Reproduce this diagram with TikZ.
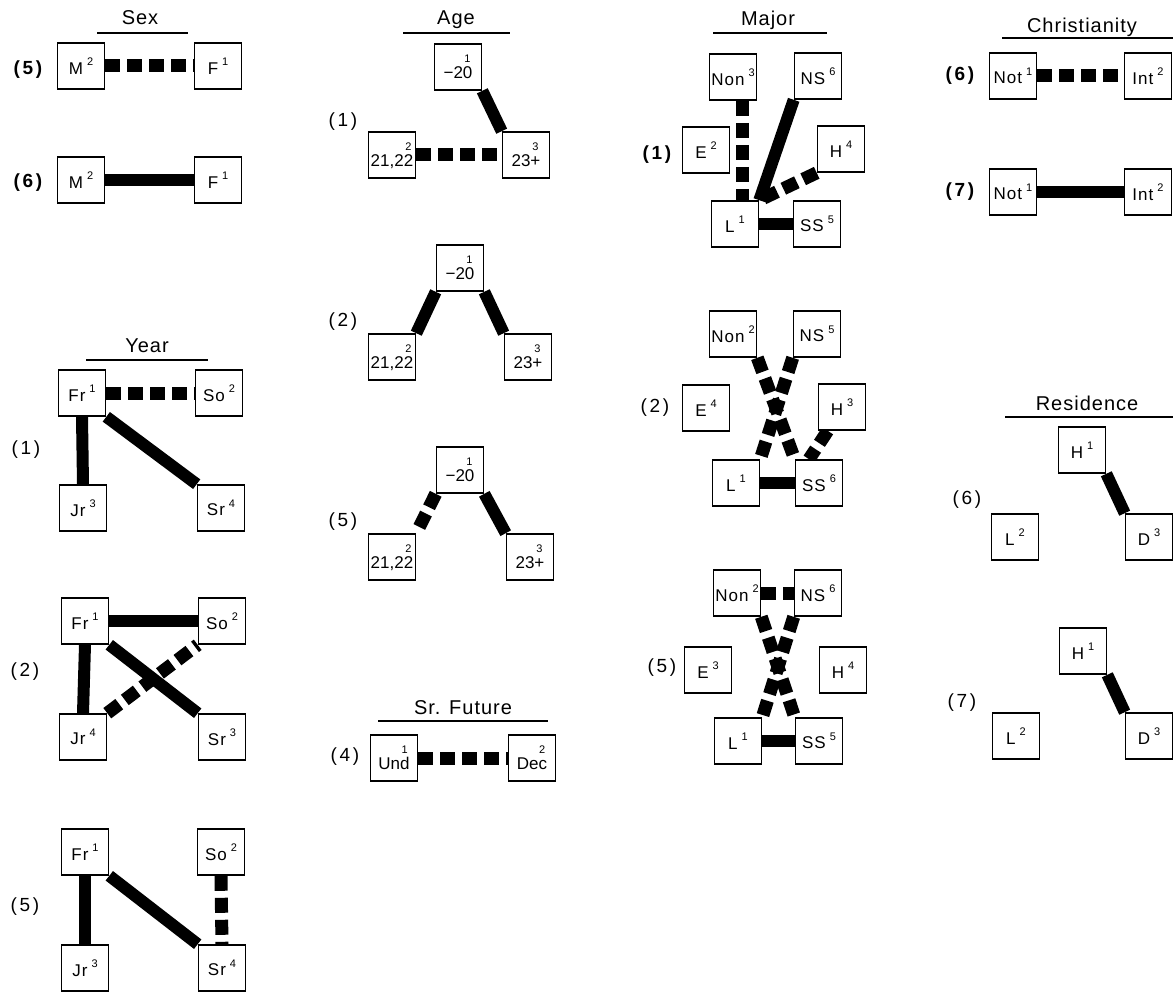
\documentclass[tikz,border=0pt]{standalone}
\usepackage{fontspec}
\setmainfont{Liberation Sans}
\newfontfamily\ttlfont[LetterSpace=5]{Liberation Sans}
\newfontfamily\labfont[LetterSpace=14]{Liberation Sans}
\newfontfamily\boxfont[LetterSpace=6]{Liberation Sans}
\usetikzlibrary{backgrounds}
\newcommand\sn[1]{\raisebox{0.95ex}{\fontsize{11}{11}\selectfont #1}}
\newcommand\bxt[2]{\raisebox{-0.35em}{#1\hspace{4pt}\sn{#2}}}
\newcommand\twol[2]{\normalfont\raisebox{-3pt}{\begin{tabular}{@{}r@{}}{\fontsize{11}{11}\selectfont #2\,}\\[-1pt]#1\end{tabular}}}
\begin{document}
\begin{tikzpicture}[x=1pt,y=-1pt,
  bx/.style={draw, line width=1.6pt, fill=white, minimum width=47pt, minimum height=46pt, inner sep=0pt, font=\boxfont\fontsize{17}{17}\selectfont},
  sl/.style={line width=12pt},
  dl/.style={line width=13pt, dash pattern=on 15pt off 7pt},
  ttl/.style={font=\ttlfont\fontsize{20}{20}\selectfont},
  lb/.style={font=\labfont\fontsize{19}{19}\selectfont},
  lbb/.style={font=\labfont\fontsize{19}{19}\selectfont\bfseries},
  ul/.style={line width=1.5pt}]
\useasboundingbox (0,0) rectangle (1173,992);

% ---------- Sex ----------
\node[ttl] (sext) at (140,18) {Sex};
\draw[ul] (97,33) -- (188,33);
\node[lbb] (s5lab) at (28,70) {(5)};
\node[bx] (s5m) at (81,66) {\bxt{M}{2}};
\node[bx] (s5f) at (218,66) {\bxt{F}{1}};
\node[lbb] (s6lab) at (28,183) {(6)};
\node[bx] (s6m) at (81,180) {\bxt{M}{2}};
\node[bx] (s6f) at (218,180) {\bxt{F}{1}};

% ---------- Year ----------
\node[ttl] (yeart) at (147,346) {Year};
\draw[ul] (86,360) -- (208,360);
\node[lb] (y1lab) at (26,450) {(1)};
\node[bx] (y1fr) at (82,393) {\bxt{Fr}{1}};
\node[bx] (y1so) at (219,393) {\bxt{So}{2}};
\node[bx] (y1jr) at (83,508) {\bxt{Jr}{3}};
\node[bx] (y1sr) at (221,508) {\bxt{Sr}{4}};
\node[lb] (y2lab) at (25,672) {(2)};
\node[bx] (y2fr) at (85,621) {\bxt{Fr}{1}};
\node[bx] (y2so) at (222,621) {\bxt{So}{2}};
\node[bx] (y2jr) at (83,737) {\bxt{Jr}{4}};
\node[bx] (y2sr) at (222,737) {\bxt{Sr}{3}};
\node[lb] (y5lab) at (25,907) {(5)};
\node[bx] (y5fr) at (85,852) {\bxt{Fr}{1}};
\node[bx] (y5so) at (221,852) {\bxt{So}{2}};
\node[bx] (y5jr) at (85,968) {\bxt{Jr}{3}};
\node[bx] (y5sr) at (222,968) {\bxt{Sr}{4}};

% ---------- Age ----------
\node[ttl] (aget) at (456,20) {Age};
\draw[ul] (403,33) -- (510,33);
\node[lb] (a1lab) at (343,122) {(1)};
\node[bx] (a1t) at (458,67) {\twol{−20}{1}};
\node[bx] (a1l) at (392,155) {\twol{21,22}{2}};
\node[bx] (a1r) at (526,155) {\twol{23+}{3}};
\node[lb] (a2lab) at (343,322) {(2)};
\node[bx] (a2t) at (460,268) {\twol{−20}{1}};
\node[bx] (a2l) at (392,357) {\twol{21,22}{2}};
\node[bx] (a2r) at (528,357) {\twol{23+}{3}};
\node[lb] (a5lab) at (343,522) {(5)};
\node[bx] (a5t) at (460,470) {\twol{−20}{1}};
\node[bx] (a5l) at (392,557) {\twol{21,22}{2}};
\node[bx] (a5r) at (530,557) {\twol{23+}{3}};

% ---------- Sr. Future ----------
\node[ttl] (sft) at (463,708) {Sr. Future};
\draw[ul] (378,721) -- (548,721);
\node[lb] (f4lab) at (345,757) {(4)};
\node[bx] (f4u) at (394,758) {\twol{Und}{1}};
\node[bx] (f4d) at (532,758) {\twol{Dec}{2}};

% ---------- Major ----------
\node[ttl] (majt) at (768,20) {Major};
\draw[ul] (713,33) -- (827,33);
\node[lbb] (m1lab) at (657,155) {(1)};
\node[bx] (m1non) at (733,77) {\bxt{Non}{3}};
\node[bx] (m1ns) at (818,76) {\bxt{NS}{6}};
\node[bx] (m1e) at (706,150) {\bxt{E}{2}};
\node[bx] (m1h) at (841,149) {\bxt{H}{4}};
\node[bx] (m1l) at (735,224) {\bxt{L}{1}};
\node[bx] (m1ss) at (817,224) {\bxt{SS}{5}};
\node[lb] (m2lab) at (655,408) {(2)};
\node[bx] (m2non) at (733,334) {\bxt{Non}{2}};
\node[bx] (m2ns) at (817,334) {\bxt{NS}{5}};
\node[bx] (m2e) at (706,408) {\bxt{E}{4}};
\node[bx] (m2h) at (842,407) {\bxt{H}{3}};
\node[bx] (m2l) at (736,483) {\bxt{L}{1}};
\node[bx] (m2ss) at (819,483) {\bxt{SS}{6}};
\node[lb] (m5lab) at (662,668) {(5)};
\node[bx] (m5non) at (737,593) {\bxt{Non}{2}};
\node[bx] (m5ns) at (818,593) {\bxt{NS}{6}};
\node[bx] (m5e) at (708,670) {\bxt{E}{3}};
\node[bx] (m5h) at (843,670) {\bxt{H}{4}};
\node[bx] (m5l) at (738,741) {\bxt{L}{1}};
\node[bx] (m5ss) at (819,741) {\bxt{SS}{5}};

% ---------- Christianity ----------
\node[ttl] (chrt) at (1082,27) {Christianity};
\draw[ul] (1002,38) -- (1173,38);
\node[lbb] (c6lab) at (960,76) {(6)};
\node[bx] (c6not) at (1013,76) {\bxt{Not}{1}};
\node[bx] (c6int) at (1148,76) {\bxt{Int}{2}};
\node[lbb] (c7lab) at (960,192) {(7)};
\node[bx] (c7not) at (1013,192) {\bxt{Not}{1}};
\node[bx] (c7int) at (1148,192) {\bxt{Int}{2}};

% ---------- Residence ----------
\node[ttl] (rest) at (1087,403) {Residence};
\draw[ul] (1005,417) -- (1173,417);
\node[lb] (r6lab) at (967,500) {(6)};
\node[bx] (r6h) at (1082,450) {\bxt{H}{1}};
\node[bx] (r6l) at (1015,537) {\bxt{L}{2}};
\node[bx] (r6d) at (1149,537) {\bxt{D}{3}};
\node[lb] (r7lab) at (962,703) {(7)};
\node[bx] (r7h) at (1083,651) {\bxt{H}{1}};
\node[bx] (r7l) at (1016,736) {\bxt{L}{2}};
\node[bx] (r7d) at (1149,736) {\bxt{D}{3}};

\begin{pgfonlayer}{background}
% Sex
\draw[dl] (s5m.east) -- (s5f.west);
\draw[sl] (s6m.east) -- (s6f.west);
% Year
\draw[dl] (y1fr.east) -- (y1so.west);
\draw[sl] (y1fr.south) -- (y1jr.north);
\draw[sl] (y1fr.south east) -- (y1sr.north west);
\draw[sl] (y2fr.east) -- (y2so.west);
\draw[sl] (y2fr.south) -- (y2jr.north);
\draw[sl] (y2fr.south east) -- (y2sr.north west);
\draw[dl] (y2jr.north east) -- (y2so.south west);
\draw[sl] (y5fr.south) -- (y5jr.north);
\draw[sl] (y5fr.south east) -- (y5sr.north west);
\draw[dl] (y5so.south) -- (y5sr.north);
% Age
\draw[sl] (a1t.south east) -- (a1r.north west);
\draw[dl] (a1l.east) -- (a1r.west);
\draw[sl] (a2t.south west) -- (a2l.north east);
\draw[sl] (a2t.south east) -- (a2r.north west);
\draw[dl] (a5t.south west) -- (a5l.north east);
\draw[sl] (a5t.south east) -- (a5r.north west);
\draw[dl] (f4u.east) -- (f4d.west);
% Major
\draw[dl] ([xshift=9pt]m1non.south) -- ([xshift=7pt]m1l.north);
\draw[sl] (m1ns.south west) -- (m1l.north east);
\draw[dl] (m1h.south west) -- (m1l.north east);
\draw[sl] (m1l.east) -- (m1ss.west);
\draw[dl] (m2non.south east) -- (m2ss.north west);
\draw[dl] (m2ns.south west) -- (m2l.north east);
\draw[dl] ([xshift=10pt]m2h.south west) -- ([xshift=-10pt]m2ss.north);
\draw[sl] (m2l.east) -- (m2ss.west);
\draw[dl] (m5non.east) -- (m5ns.west);
\draw[dl] (m5non.south east) -- (m5ss.north west);
\draw[dl] (m5ns.south west) -- (m5l.north east);
\draw[sl] (m5l.east) -- (m5ss.west);
% Christianity
\draw[dl] (c6not.east) -- (c6int.west);
\draw[sl] (c7not.east) -- (c7int.west);
% Residence
\draw[sl] (r6h.south east) -- (r6d.north west);
\draw[sl] (r7h.south east) -- (r7d.north west);
\end{pgfonlayer}
\end{tikzpicture}
\end{document}
